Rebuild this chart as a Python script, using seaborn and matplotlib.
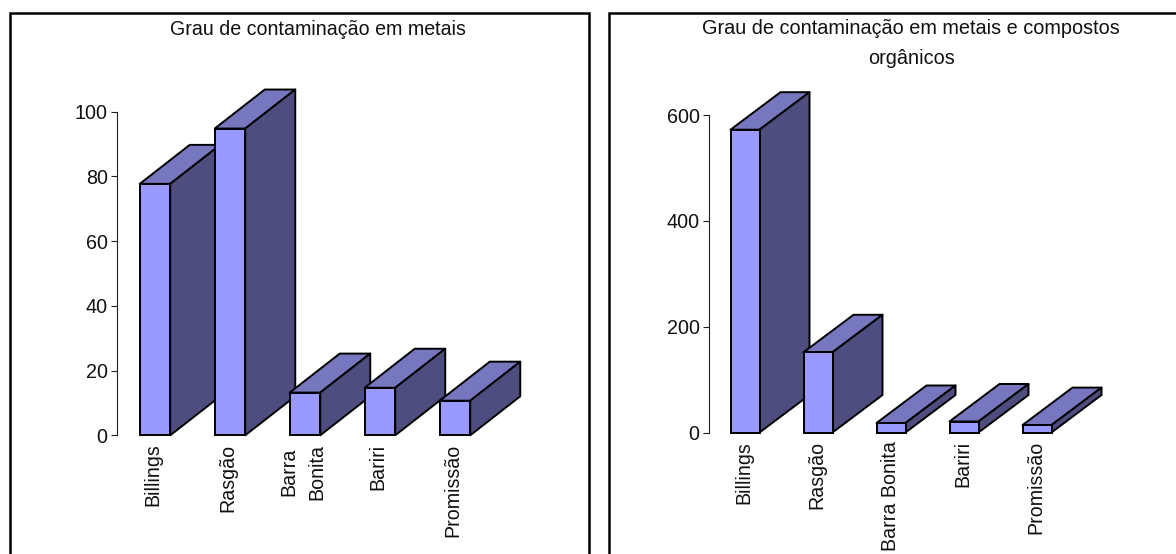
import matplotlib
matplotlib.use("Agg")
import matplotlib.pyplot as plt
import matplotlib.transforms as mtrans
from matplotlib.patches import Polygon, Rectangle
import seaborn as sns

# Sediment contamination scores per reservoir
locais = ["Billings", "Rasgão", "Barra Bonita", "Bariri", "Promissão"]
locais_esq = ["Billings", "Rasgão", "Barra\nBonita", "Bariri", "Promissão"]
metais = [77.7, 94.8, 13.2, 14.7, 10.7]
metais_organicos = [572.6, 151.7, 18.0, 20.8, 14.0]

titulo_esq = "Grau de contaminação em metais"
titulo_dir = "Grau de contaminação em metais e compostos\norgânicos"
ticks_esq = [0, 20, 40, 60, 80, 100]
ticks_dir = [0, 200, 400, 600]

W, H = 1176, 554
FRENTE, TOPO, LADO = "#9999FF", "#7777C0", "#4D4D80"
EDGE_LW = 1.4

sns.set_theme(style="white")
plt.rcParams["font.family"] = ["Liberation Sans", "DejaVu Sans"]
plt.rcParams["text.color"] = "#111111"

fig = plt.figure(figsize=(W / 100, H / 100), dpi=100, facecolor="white")


def painel(x0, y_base, y_top, passo, c0, larg, ymax, valores, rotulos, ticks, prof, recuo):
    """Axes placed in pixels, with a pseudo-3D bar chart drawn inside."""
    largura_ax = passo * 5
    ax = fig.add_axes([x0 / W, (H - y_base) / H, largura_ax / W, (y_base - y_top) / H])
    sns.barplot(x=rotulos, y=valores, color=FRENTE, saturation=1, width=larg / passo,
                edgecolor="black", linewidth=EDGE_LW, ax=ax)
    ax.set_xlim((x0 - c0) / passo, (x0 - c0) / passo + 5)
    ax.set_ylim(0, ymax)
    ax.patch.set_alpha(0)

    # Depth faces follow each bar's value; later bars paint over earlier ones
    dx = prof[0] / passo
    dy = prof[1] * ymax / (y_base - y_top)
    for i, (barra, v) in enumerate(zip(ax.patches, valores)):
        esq, dir_ = barra.get_x(), barra.get_x() + barra.get_width()
        topo = Polygon([(esq, v), (esq + dx, v + dy), (dir_ + dx, v + dy), (dir_, v)],
                       facecolor=TOPO, edgecolor="black", lw=EDGE_LW,
                       joinstyle="round", clip_on=False, zorder=3 + i)
        lado = Polygon([(dir_, 0), (dir_ + dx, dy), (dir_ + dx, v + dy), (dir_, v)],
                       facecolor=LADO, edgecolor="black", lw=EDGE_LW,
                       joinstyle="round", clip_on=False, zorder=3 + i)
        ax.add_patch(topo)
        ax.add_patch(lado)
        barra.set_clip_on(False)
        barra.set_zorder(3.5 + i)

    for lado_nome in ("top", "right", "bottom"):
        ax.spines[lado_nome].set_visible(False)
    ax.spines["left"].set_linewidth(0.8)
    ax.spines["left"].set_color("#222222")
    ax.set_yticks(ticks)
    ax.tick_params(axis="y", length=4.2, width=0.8, pad=2.2, labelsize=14.2,
                   left=True, color="#222222", labelcolor="#111111")
    ax.tick_params(axis="x", length=0, pad=6, labelsize=14.1, labelcolor="#111111")
    desloca = mtrans.ScaledTranslation(-recuo / 100, 0, fig.dpi_scale_trans)
    for rot in ax.get_xticklabels():
        rot.set_rotation(90)
        rot.set_va("top")
        rot.set_ha("center")
        rot.set_linespacing(1.65)
        rot.set_transform(rot.get_transform() + desloca)
    ax.set_xlabel("")
    ax.set_ylabel("")
    return ax


painel(116.6, 435.3, 111.7, 75, 155, 30.5, 100, metais, locais_esq, ticks_esq, (50, 39), 2)
painel(708.5, 432.5, 115.2, 73, 745, 29, 600, metais_organicos, locais, ticks_dir, (50, 37.5), 1)

fig.text(318 / W, 1 - 29.3 / H, titulo_esq, ha="center", va="center", fontsize=14.1)
fig.text(911 / W, 1 - 43.3 / H, titulo_dir, ha="center", va="center", fontsize=14.3,
         linespacing=1.7)

# Panel frames: the figure edge cuts them off at the bottom and on the far right
for x, w in ((9.5, 579.5), (609.5, 640)):
    fig.add_artist(Rectangle((x / W, 1 - 620 / H), w / W, 607.5 / H, transform=fig.transFigure,
                             fill=False, edgecolor="black", lw=1.8, clip_on=True))

fig.savefig("out.png", dpi=100)
